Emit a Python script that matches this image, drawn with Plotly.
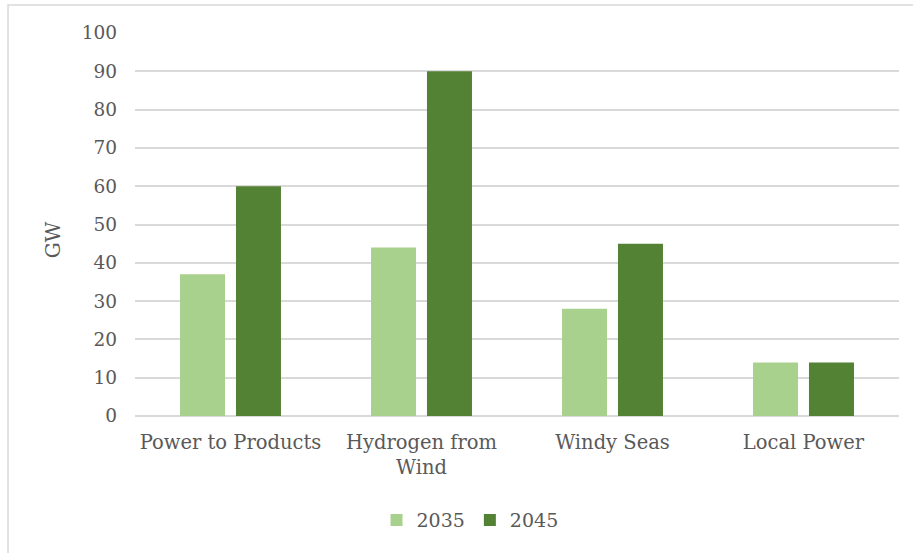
import plotly.graph_objects as go

categories = ["Power to Products", "Hydrogen from<br>Wind", "Windy Seas", "Local Power"]
values_2035 = [37, 44, 28, 14]
values_2045 = [60, 90, 45, 14]
y_ticks = [0, 10, 20, 30, 40, 50, 60, 70, 80, 90, 100]

FONT = "DejaVu Serif"
TEXT = "#595959"
GRID = "#d9d9d9"

fig = go.Figure()
fig.add_trace(go.Bar(name="2035", x=categories, y=values_2035,
                     marker=dict(color="#a9d18e", line=dict(width=0))))
fig.add_trace(go.Bar(name="2045", x=categories, y=values_2045,
                     marker=dict(color="#548235", line=dict(width=0))))

# light frame around the chart area
fig.add_shape(type="rect", xref="paper", yref="paper",
              x0=-0.1662, x1=1.03, y0=-0.40, y1=1.0731,
              line=dict(color=GRID, width=1.5), fillcolor="rgba(0,0,0,0)", layer="below")

# vertical axis title
fig.add_annotation(text="GW", xref="paper", yref="paper", x=-0.108, y=0.46,
                   xanchor="center", yanchor="middle", textangle=-90, showarrow=False,
                   font=dict(family=FONT, size=20, color=TEXT))

fig.update_layout(
    width=913, height=553,
    margin=dict(l=135, r=14, t=33, b=137),
    paper_bgcolor="white", plot_bgcolor="white",
    barmode="group", bargap=0.414, bargroupgap=0.196,
    font=dict(family=FONT, color=TEXT, size=17),
    showlegend=True,
    legend=dict(orientation="h", x=0.4385, xanchor="center", y=-0.272, yanchor="middle",
                font=dict(family=FONT, size=19, color=TEXT), itemclick=False),
    xaxis=dict(showgrid=False, showline=False, ticks="", ticklabelstandoff=12,
               tickfont=dict(family=FONT, size=19.5, color=TEXT)),
    yaxis=dict(range=[0, 100], tickvals=y_ticks, showgrid=True, gridcolor=GRID, gridwidth=1.5,
               zeroline=True, zerolinecolor=GRID, zerolinewidth=1.5, showline=False,
               ticks="", ticklabelstandoff=17,
               tickfont=dict(family=FONT, size=18.5, color=TEXT)),
)

fig.write_html("out.html")
